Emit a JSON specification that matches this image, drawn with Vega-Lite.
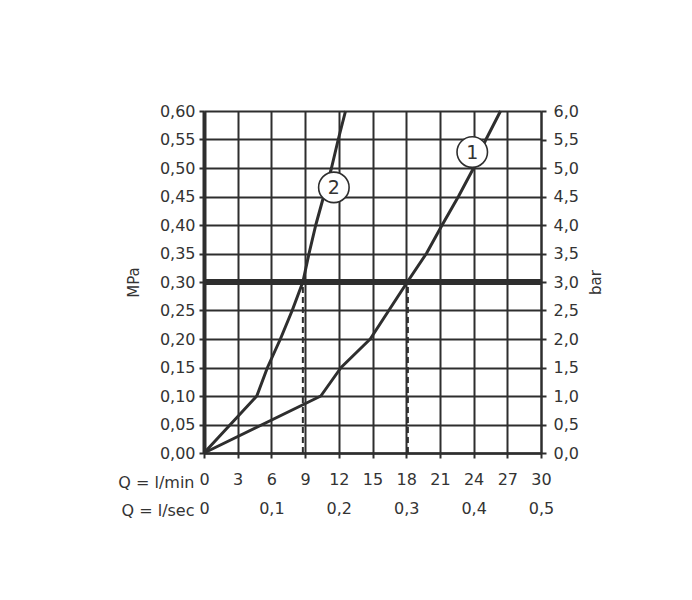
{
  "$schema": "https://vega.github.io/schema/vega-lite/v6.json",
  "width": 337,
  "height": 342,
  "autosize": "none",
  "padding": {"left": 204, "top": 111, "right": 151, "bottom": 147},
  "background": "white",
  "config": {
    "view": {"stroke": null},
    "font": "DejaVu Sans",
    "axis": {
      "labelFont": "DejaVu Sans",
      "labelFontSize": 16,
      "labelColor": "#333333",
      "titleFont": "DejaVu Sans",
      "titleFontWeight": "normal",
      "titleColor": "#333333",
      "titleFontSize": 15,
      "labelFlush": false,
      "labelOverlap": false,
      "domainColor": "#2e2e2e",
      "tickColor": "#2e2e2e",
      "gridColor": "#2e2e2e",
      "gridOpacity": 1
    }
  },
  "datasets": {
    "curves": [
      {"curve": "1", "q": 0, "p": 0},
      {"curve": "1", "q": 10.4, "p": 0.1},
      {"curve": "1", "q": 12.2, "p": 0.15},
      {"curve": "1", "q": 14.8, "p": 0.2},
      {"curve": "1", "q": 16.45, "p": 0.25},
      {"curve": "1", "q": 18.1, "p": 0.3},
      {"curve": "1", "q": 19.8, "p": 0.35},
      {"curve": "1", "q": 21.2, "p": 0.4},
      {"curve": "1", "q": 22.65, "p": 0.45},
      {"curve": "1", "q": 24.0, "p": 0.5},
      {"curve": "1", "q": 25.1, "p": 0.55},
      {"curve": "1", "q": 26.4, "p": 0.6},
      {"curve": "2", "q": 0, "p": 0},
      {"curve": "2", "q": 4.7, "p": 0.1},
      {"curve": "2", "q": 5.65, "p": 0.15},
      {"curve": "2", "q": 6.8, "p": 0.2},
      {"curve": "2", "q": 7.85, "p": 0.25},
      {"curve": "2", "q": 8.8, "p": 0.3},
      {"curve": "2", "q": 9.35, "p": 0.35},
      {"curve": "2", "q": 9.95, "p": 0.4},
      {"curve": "2", "q": 10.65, "p": 0.45},
      {"curve": "2", "q": 11.35, "p": 0.5},
      {"curve": "2", "q": 11.95, "p": 0.55},
      {"curve": "2", "q": 12.6, "p": 0.6}
    ],
    "drops": [
      {"q": 8.8, "p": 0, "p1": 0.3},
      {"q": 18.15, "p": 0, "p1": 0.3}
    ],
    "labels": [
      {"label": "1", "q": 23.88, "p": 0.528},
      {"label": "2", "q": 11.56, "p": 0.466}
    ],
    "limit": [
      {"s0": 0, "s1": 0.5, "bar": 3}
    ]
  },
  "layer": [
    {
      "encoding": {
        "x": {
          "field": "q", "type": "quantitative",
          "scale": {"domain": [0, 30], "nice": false, "zero": false},
          "axis": {
            "values": [0, 3, 6, 9, 12, 15, 18, 21, 24, 27, 30],
            "format": "d",
            "grid": true, "gridWidth": 2,
            "domain": true, "domainWidth": 2.5,
            "ticks": true, "tickSize": 5, "tickWidth": 2,
            "labelPadding": 13,
            "title": "Q = l/min",
            "titleAngle": 0,
            "titleAlign": "right",
            "titleBaseline": "middle",
            "titleFontSize": 16,
            "titleX": -10,
            "titleY": 29
          }
        },
        "y": {
          "field": "p", "type": "quantitative",
          "scale": {"domain": [0, 0.6], "nice": false, "zero": false},
          "axis": {
            "values": [0, 0.05, 0.1, 0.15, 0.2, 0.25, 0.3, 0.35, 0.4, 0.45, 0.5, 0.55, 0.6],
            "labelExpr": "replace(format(datum.value, '.2f'), '.', ',')",
            "grid": true, "gridWidth": 2,
            "domain": true, "domainWidth": 4,
            "ticks": true, "tickSize": 5, "tickWidth": 2,
            "labelPadding": 4,
            "title": "MPa",
            "titlePadding": 18
          }
        }
      },
      "layer": [
        {
          "data": {"name": "curves"},
          "mark": {"type": "line", "color": "#2e2e2e", "strokeWidth": 3, "strokeJoin": "round"},
          "encoding": {
            "detail": {"field": "curve", "type": "nominal"}
          }
        },
        {
          "data": {"name": "drops"},
          "mark": {"type": "rule", "color": "#2e2e2e", "strokeWidth": 2, "strokeDash": [6, 4]},
          "encoding": {
            "y2": {"field": "p1"}
          }
        },
        {
          "data": {"name": "labels"},
          "mark": {"type": "point", "shape": "circle", "size": 930, "filled": true, "fill": "white", "stroke": "#2e2e2e", "strokeWidth": 1.6, "opacity": 1},
          "encoding": {}
        },
        {
          "data": {"name": "labels"},
          "mark": {"type": "text", "font": "DejaVu Sans", "fontSize": 19, "color": "#333333", "align": "center", "baseline": "middle", "dy": 1},
          "encoding": {
            "text": {"field": "label", "type": "nominal"}
          }
        }
      ]
    },
    {
      "data": {"name": "limit"},
      "mark": {"type": "rule", "color": "#2e2e2e", "strokeWidth": 6, "strokeCap": "butt"},
      "encoding": {
        "x": {
          "field": "s0", "type": "quantitative",
          "scale": {"domain": [0, 0.5], "nice": false, "zero": false},
          "axis": {
            "orient": "bottom",
            "values": [0, 0.1, 0.2, 0.3, 0.4, 0.5],
            "labelExpr": "datum.value == 0 ? '0' : replace(format(datum.value, '.1f'), '.', ',')",
            "grid": false, "domain": false, "ticks": false,
            "labelPadding": 47,
            "title": "Q = l/sec",
            "titleAngle": 0,
            "titleAlign": "right",
            "titleBaseline": "middle",
            "titleFontSize": 16,
            "titleX": -10,
            "titleY": 57
          }
        },
        "x2": {"field": "s1"},
        "y": {
          "field": "bar", "type": "quantitative",
          "scale": {"domain": [0, 6], "nice": false, "zero": false},
          "axis": {
            "orient": "right",
            "values": [0, 0.5, 1, 1.5, 2, 2.5, 3, 3.5, 4, 4.5, 5, 5.5, 6],
            "labelExpr": "replace(format(datum.value, '.1f'), '.', ',')",
            "grid": false,
            "domain": true, "domainWidth": 2,
            "ticks": true, "tickSize": 5, "tickWidth": 2,
            "labelPadding": 7,
            "title": "bar",
            "titleAngle": 270,
            "titleBaseline": "top",
            "titlePadding": 10
          }
        }
      }
    }
  ],
  "resolve": {"scale": {"x": "independent", "y": "independent"}}
}
